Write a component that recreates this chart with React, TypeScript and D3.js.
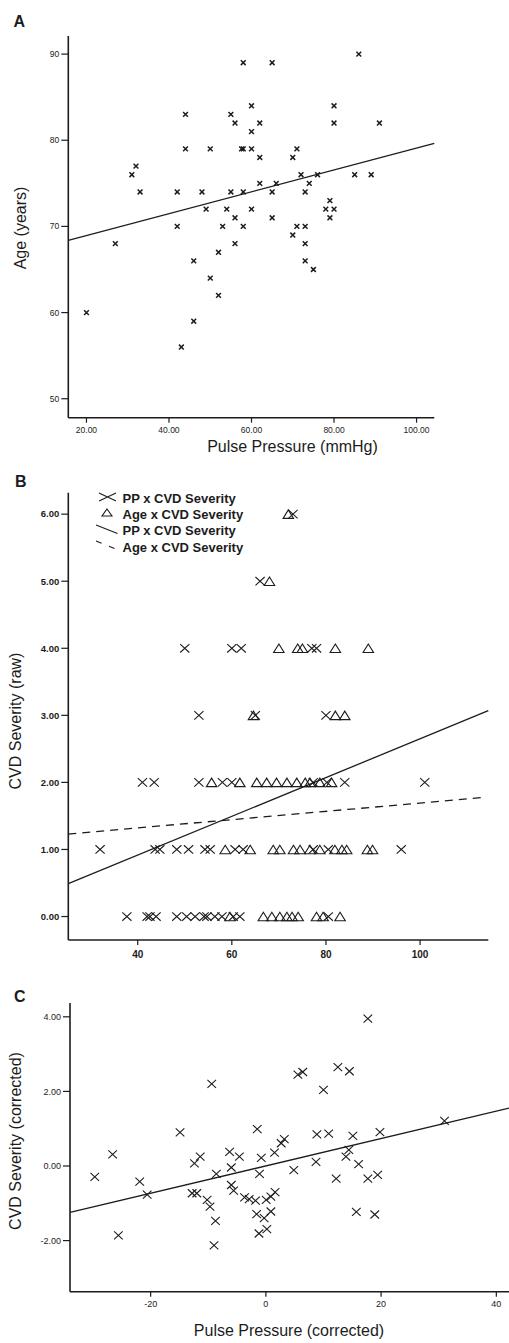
import React from 'react'
import * as d3 from 'd3'

// Panel A: pulse pressure vs age
const ppA = [86, 58, 65, 44, 55, 60, 80, 56, 62, 80, 91, 60, 44, 50, 58, 57.6, 60, 71, 62, 70, 32, 31, 72, 76, 85, 89, 62, 66, 74, 33, 42, 48, 55, 58, 65, 73, 79, 49, 54, 60, 78, 80, 56, 65, 79, 42, 53, 58, 71, 73, 70, 27, 56, 73, 46, 73, 52, 50, 75, 52, 20, 46, 43]
const ageA = [90, 89, 89, 83, 83, 84, 84, 82, 82, 82, 82, 81, 79, 79, 79, 79, 79, 79, 78, 78, 77, 76, 76, 76, 76, 76, 75, 75, 75, 74, 74, 74, 74, 74, 74, 74, 73, 72, 72, 72, 72, 72, 71, 71, 71, 70, 70, 70, 70, 70, 69, 68, 68, 68, 66, 66, 67, 64, 65, 62, 60, 59, 56]
const fitA = [66.4, 0.127]
const xTicksA = [20, 40, 60, 80, 100]
const yTicksA = [50, 60, 70, 80, 90]

// Panel B: raw CVD severity
const ppB = [73, 66, 50, 60, 62, 77, 78, 53, 65, 80, 41, 43.5, 53, 58, 60, 77.3, 80.2, 84, 101, 32, 43.7, 44.7, 48.3, 50.8, 54.3, 55.4, 60.7, 62.4, 77.3, 80.5, 96, 37.7, 42, 42.6, 43.9, 48.3, 50.4, 52.2, 54.1, 54.7, 56.4, 57.9, 60.3, 61.7, 80.5]
const sevPP = [6, 5, 4, 4, 4, 4, 4, 3, 3, 3, 2, 2, 2, 2, 2, 2, 2, 2, 2, 1, 1, 1, 1, 1, 1, 1, 1, 1, 1, 1, 1, 0, 0, 0, 0, 0, 0, 0, 0, 0, 0, 0, 0, 0, 0]
const ageB = [72, 68, 70, 74, 75, 82, 89, 64.6, 82, 84, 55.7, 61.7, 65.3, 67.4, 69.5, 71.7, 73.8, 75.6, 76.6, 78.7, 81.2, 58.6, 63.9, 68.8, 70.2, 73.1, 74.5, 76.6, 78.7, 81.9, 83.4, 84.4, 88.8, 89.9, 59.6, 66.7, 68.5, 70.2, 71.7, 72.8, 74.1, 78, 79.4, 83]
const sevAge = [6, 5, 4, 4, 4, 4, 4, 3, 3, 3, 2, 2, 2, 2, 2, 2, 2, 2, 2, 2, 2, 1, 1, 1, 1, 1, 1, 1, 1, 1, 1, 1, 1, 1, 0, 0, 0, 0, 0, 0, 0, 0, 0, 0]
const fitPP = [-0.24, 0.0289]
const fitAge = [1.074, 0.00618]
const xTicksB = [40, 60, 80, 100]
const yTicksB = [0, 1, 2, 3, 4, 5, 6]
const legendB = ['PP x CVD Severity', 'Age x CVD Severity', 'PP x CVD Severity', 'Age x CVD Severity']

// Panel C: corrected values
const ppC = [17.7, -9.4, 5.55, 6.4, 12.5, 14.5, 10, -14.9, -1.5, 8.85, 10.9, 15.1, 19.8, 31, 3.2, 2.66, -26.6, -6.3, -4.6, -11.4, -0.8, 1.5, 14.4, 13.9, -12.4, -6, -29.7, -21.9, -20.6, -8.6, -1.1, 4.85, 8.7, 12.2, 16.1, 17.7, 19.4, -12.8, -12, -10.2, -9.7, -8.75, -9, -25.6, -6, -5.6, -3.7, -2.9, -1.8, 0.05, 0.87, 1.6, -1.6, -0.3, 0.87, -1.2, 0.17, 15.7, 18.9]
const sevC = [3.95, 2.2, 2.45, 2.52, 2.65, 2.54, 2.04, 0.9, 0.99, 0.85, 0.87, 0.81, 0.91, 1.21, 0.72, 0.61, 0.31, 0.38, 0.25, 0.25, 0.22, 0.36, 0.43, 0.25, 0.07, -0.04, -0.29, -0.42, -0.77, -0.21, -0.21, -0.11, 0.11, -0.34, 0.05, -0.34, -0.24, -0.73, -0.73, -0.91, -1.09, -1.47, -2.13, -1.86, -0.51, -0.66, -0.84, -0.89, -0.93, -0.91, -0.82, -0.7, -1.29, -1.4, -1.22, -1.81, -1.69, -1.23, -1.3]
const fitC = [0.003, 0.0367]
const xTicksC = [-20, 0, 20, 40]
const yTicksC = [-2, 0, 2, 4]

const FONT = 'Arial, "Liberation Sans", Helvetica, sans-serif'
const INK = '#1c1c1c'

const cross = (x: number, y: number, w: number, h: number) =>
  `M${x - w},${y - h}L${x + w},${y + h}M${x - w},${y + h}L${x + w},${y - h}`
const tri = (x: number, y: number, w: number, h: number) =>
  `M${x},${y - h / 2}L${x + w / 2},${y + h / 2}L${x - w / 2},${y + h / 2}Z`

function Axes({ x, y, xTicks, yTicks, xFmt, yFmt, xSize, ySize, xWeight, yWeight, xLabelDy }: any) {
  const [x0, x1] = x.range()
  const [y0, y1] = y.range()
  return (
    <g stroke={INK} fill={INK}>
      <line x1={x0} x2={x0} y1={y0} y2={y1} strokeWidth={1.6} />
      <line x1={x0} x2={x1} y1={y0} y2={y0} strokeWidth={1.6} />
      {yTicks.map((t: number) => (
        <g key={'y' + t}>
          <line x1={x0 - 7} x2={x0} y1={y(t)} y2={y(t)} strokeWidth={1.2} />
          <text x={x0 - 9} y={y(t)} dy="0.35em" textAnchor="end" stroke="none" fontSize={ySize} fontWeight={yWeight} fontFamily={FONT}>{yFmt(t)}</text>
        </g>
      ))}
      {xTicks.map((t: number) => (
        <g key={'x' + t}>
          <line x1={x(t)} x2={x(t)} y1={y0} y2={y0 + 5} strokeWidth={1.2} />
          <text x={x(t)} y={y0 + xLabelDy} dy="0.35em" textAnchor="middle" stroke="none" fontSize={xSize} fontWeight={xWeight} fontFamily={FONT}>{xFmt(t)}</text>
        </g>
      ))}
    </g>
  )
}

function App() {
  const xA = d3.scaleLinear().domain([15.6, 104.3]).range([68.3, 434.3])
  const yA = d3.scaleLinear().domain([47.8, 92.1]).range([417.7, 36])
  const xB = d3.scaleLinear().domain([25.25, 114.5]).range([68.3, 488.3])
  const yB = d3.scaleLinear().domain([-0.35, 6.32]).range([940, 492.7])
  const xC = d3.scaleLinear().domain([-34, 42.2]).range([70, 509])
  const yC = d3.scaleLinear().domain([-3.37, 4.37]).range([1291.7, 1003])

  const line = d3.line<number[]>()
  const fitLine = (fit: number[], xs: any, ys: any, from: number, to: number) =>
    line([[xs(from), ys(fit[0] + fit[1] * from)], [xs(to), ys(fit[0] + fit[1] * to)]]) as string

  const title = (t: string, x: number, y: number, rot: boolean) => (
    <text x={x} y={y} textAnchor="middle" fontSize={16} fontFamily={FONT} fill={INK}
      transform={rot ? `rotate(-90,${x},${y})` : undefined} dy={rot ? '0.35em' : undefined}>{t}</text>
  )
  const panel = (t: string, x: number, y: number) => (
    <text x={x} y={y} fontSize={16} fontWeight="bold" fontFamily={FONT} fill={INK}>{t}</text>
  )

  return (
    <svg width={509} height={1343} style={{ position: 'absolute', left: 0, top: 0, background: '#fff' }}>
      <rect width={509} height={1343} fill="#fff" />

      {/* A */}
      {panel('A', 13.5, 27)}
      <Axes x={xA} y={yA} xTicks={xTicksA} yTicks={yTicksA}
        xFmt={(d: number) => d.toFixed(2)} yFmt={(d: number) => String(d)}
        xSize={8.5} ySize={8.5} xWeight="normal" yWeight="normal" xLabelDy={12} />
      <path d={fitLine(fitA, xA, yA, 15.6, 104.3)} stroke={INK} strokeWidth={1.3} fill="none" />
      <g stroke={INK} strokeWidth={1.5} fill="none">
        {ppA.map((p, i) => <path key={i} d={cross(xA(p), yA(ageA[i]), 2.4, 2.4)} />)}
      </g>
      {title('Age (years)', 20.5, 228, true)}
      {title('Pulse Pressure (mmHg)', 292.5, 452, false)}

      {/* B */}
      {panel('B', 15, 487)}
      <Axes x={xB} y={yB} xTicks={xTicksB} yTicks={yTicksB}
        xFmt={(d: number) => String(d)} yFmt={(d: number) => d.toFixed(2)}
        xSize={10} ySize={9.5} xWeight="bold" yWeight="bold" xLabelDy={14} />
      <path d={fitLine(fitPP, xB, yB, 25.25, 114.5)} stroke={INK} strokeWidth={1.3} fill="none" />
      <path d={fitLine(fitAge, xB, yB, 25.25, 113.4)} stroke={INK} strokeWidth={1.3} fill="none" strokeDasharray="8,6" />
      <g stroke={INK} strokeWidth={1.1} fill="none">
        {ppB.map((p, i) => <path key={'p' + i} d={cross(xB(p), yB(sevPP[i]), 4.6, 4.2)} />)}
        {ageB.map((a, i) => <path key={'a' + i} d={tri(xB(a), yB(sevAge[i]), 10.5, 8.5)} />)}
      </g>
      <g fill={INK} fontFamily={FONT} fontWeight="bold" fontSize={13}>
        <path d={cross(107.5, 497, 8.5, 4)} stroke={INK} strokeWidth={1.1} fill="none" />
        <path d={tri(107, 512.5, 10, 7)} stroke={INK} strokeWidth={1.1} fill="none" />
        <path d="M96,525L117.5,533.5" stroke={INK} strokeWidth={1.1} />
        <path d="M96,541L117,549.5" stroke={INK} strokeWidth={1.1} strokeDasharray="6,8" />
        {legendB.map((t, i) => (
          <text key={i} x={122.5} y={[502.5, 518.5, 534.5, 551.5][i]}>{t}</text>
        ))}
      </g>
      {title('CVD Severity (raw)', 15.5, 721, true)}

      {/* C */}
      {panel('C', 14, 1002)}
      <Axes x={xC} y={yC} xTicks={xTicksC} yTicks={yTicksC}
        xFmt={(d: number) => String(d)} yFmt={(d: number) => d.toFixed(2)}
        xSize={9} ySize={9} xWeight="normal" yWeight="normal" xLabelDy={12} />
      <path d={fitLine(fitC, xC, yC, -34, 42.2)} stroke={INK} strokeWidth={1.3} fill="none" />
      <g stroke={INK} strokeWidth={1.1} fill="none">
        {ppC.map((p, i) => <path key={i} d={cross(xC(p), yC(sevC[i]), 4.3, 4)} />)}
      </g>
      {title('CVD Severity (corrected)', 15.5, 1141, true)}
      {title('Pulse Pressure (corrected)', 289, 1335.5, false)}
    </svg>
  )
}

export default App
